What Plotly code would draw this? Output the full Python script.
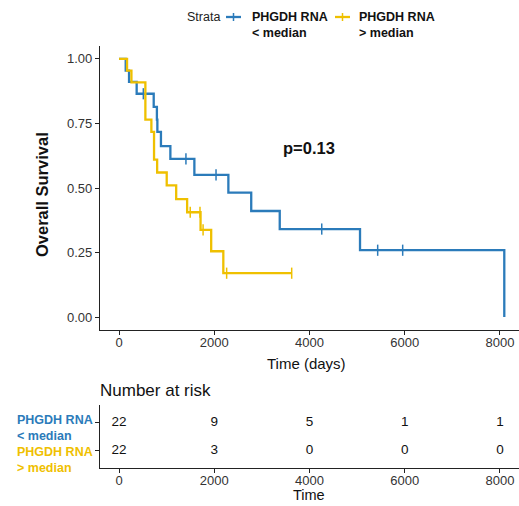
import plotly.graph_objects as go

W, H = 519, 506
BLUE = "#2B7BBA"
YELLOW = "#EFC000"

# ---- data ----
blue_time = [0, 140, 210, 370, 728, 795, 805, 880, 1078, 1582, 2296, 2776, 3375, 5061, 8091]
blue_surv = [1.0, 0.955, 0.911, 0.865, 0.814, 0.765, 0.717, 0.662, 0.613, 0.551, 0.482, 0.411, 0.341, 0.259, 0.0]
blue_cens_time = [510, 1405, 2037, 4257, 5432, 5957]
blue_cens_surv = [0.865, 0.613, 0.551, 0.341, 0.259, 0.259]

yellow_time = [0, 168, 260, 553, 679, 735, 800, 1001, 1200, 1430, 1712, 1935, 2190, 3626]
yellow_surv = [1.0, 0.955, 0.909, 0.765, 0.717, 0.610, 0.560, 0.510, 0.457, 0.406, 0.338, 0.255, 0.170, 0.170]
yellow_cens_time = [1495, 1700, 1765, 2260, 3626]
yellow_cens_surv = [0.406, 0.406, 0.338, 0.170, 0.170]

risk_times = [0, 2000, 4000, 6000, 8000]
risk_blue = [22, 9, 5, 1, 1]
risk_yellow = [22, 3, 0, 0, 0]

x_ticks = [0, 2000, 4000, 6000, 8000]
y_ticks = [0.0, 0.25, 0.5, 0.75, 1.0]
y_ticklabels = ["0.00", "0.25", "0.50", "0.75", "1.00"]

strata_labels = ["PHGDH RNA<br>< median", "PHGDH RNA<br>> median"]
p_text = "p=0.13"

FONT = "Liberation Sans, Arial, sans-serif"

def px(xp):
    return xp / W

def py(yp):
    return 1 - yp / H

fig = go.Figure()

for t, s, ct, cs, col in [
    (blue_time, blue_surv, blue_cens_time, blue_cens_surv, BLUE),
    (yellow_time, yellow_surv, yellow_cens_time, yellow_cens_surv, YELLOW),
]:
    fig.add_trace(go.Scatter(x=t, y=s, mode="lines", line=dict(color=col, width=2.3, shape="hv"),
                             xaxis="x", yaxis="y", showlegend=False, hoverinfo="skip"))
    fig.add_trace(go.Scatter(x=ct, y=cs, mode="markers",
                             marker=dict(symbol="line-ns", size=8, line=dict(color=col, width=1.5)),
                             xaxis="x", yaxis="y", showlegend=False, hoverinfo="skip"))

# risk table
fig.add_trace(go.Scatter(x=risk_times, y=[2] * len(risk_times), mode="text",
                         text=[str(v) for v in risk_blue],
                         textfont=dict(family=FONT, size=13.5, color="#111"),
                         xaxis="x2", yaxis="y2", showlegend=False, hoverinfo="skip"))
fig.add_trace(go.Scatter(x=risk_times, y=[1] * len(risk_times), mode="text",
                         text=[str(v) for v in risk_yellow],
                         textfont=dict(family=FONT, size=13.5, color="#111"),
                         xaxis="x2", yaxis="y2", showlegend=False, hoverinfo="skip"))

axis_common = dict(showgrid=False, zeroline=False, showline=True, linecolor="#222", linewidth=1.1,
                   ticks="outside", ticklen=4, tickcolor="#222", tickwidth=1.1,
                   tickfont=dict(family=FONT, size=13, color="#333"))

fig.update_layout(
    width=W, height=H,
    margin=dict(l=0, r=0, t=0, b=0),
    paper_bgcolor="white", plot_bgcolor="white",
    hovermode=False,
    xaxis=dict(domain=[px(100), 1], anchor="y", range=[-400, 8400],
               tickvals=x_ticks, ticklabelstandoff=-4, **axis_common),
    yaxis=dict(domain=[py(330), py(46)], anchor="x", range=[-0.05, 1.05],
               tickvals=y_ticks, ticktext=y_ticklabels, **axis_common),
    xaxis2=dict(domain=[px(100), 1], anchor="y2", range=[-400, 8400],
                tickvals=x_ticks, ticklabelstandoff=-4, **axis_common),
    yaxis2=dict(domain=[py(468), py(405)], anchor="x2", range=[0.4, 2.6],
                tickvals=[1, 2], ticktext=["", ""], **axis_common),
)

ann = []

def add_text(x, y, text, size, color="#111", xanchor="center", angle=0, align="center"):
    ann.append(dict(x=px(x), y=py(y), xref="paper", yref="paper", text=text,
                    xanchor=xanchor, yanchor="middle", align=align, textangle=angle,
                    showarrow=False, font=dict(family=FONT, size=size, color=color)))

# axis titles
add_text(42, 195, "<b>Overall Survival</b>", 16.5, angle=-90)
add_text(307, 363, "Time (days)", 15)
add_text(309, 495, "Time", 14.5)
add_text(98, 390, "Number at risk", 17, xanchor="left")
# p-value
ann.append(dict(x=3990, y=0.655, xref="x", yref="y", text="<b>" + p_text + "</b>",
                xanchor="center", yanchor="middle",
                showarrow=False, font=dict(family=FONT, size=16.5, color="#111")))
# risk table strata labels
add_text(15, 428, "<b>" + strata_labels[0] + "</b>", 12.5, color=BLUE, xanchor="left", align="left")
add_text(15, 460, "<b>" + strata_labels[1] + "</b>", 12.5, color=YELLOW, xanchor="left", align="left")
# legend
add_text(222, 17, "Strata", 12.5, color="#222", xanchor="right")
shapes = []
for lab, col, x0, xt in [(strata_labels[0], BLUE, 226, 250), (strata_labels[1], YELLOW, 335, 357)]:
    shapes.append(dict(type="line", xref="paper", yref="paper", x0=px(x0), x1=px(x0 + 15),
                       y0=py(17), y1=py(17), line=dict(color=col, width=2.3)))
    shapes.append(dict(type="line", xref="paper", yref="paper", x0=px(x0 + 7.5), x1=px(x0 + 7.5),
                       y0=py(13), y1=py(21), line=dict(color=col, width=1.5)))
    add_text(xt, 25, "<b>" + lab + "</b>", 12.5, xanchor="left", align="left")

fig.update_layout(annotations=ann, shapes=shapes)
fig.write_html("out.html",
               config={"displayModeBar": False},
               post_script="document.body.style.margin='0';document.body.style.overflow='hidden';")
